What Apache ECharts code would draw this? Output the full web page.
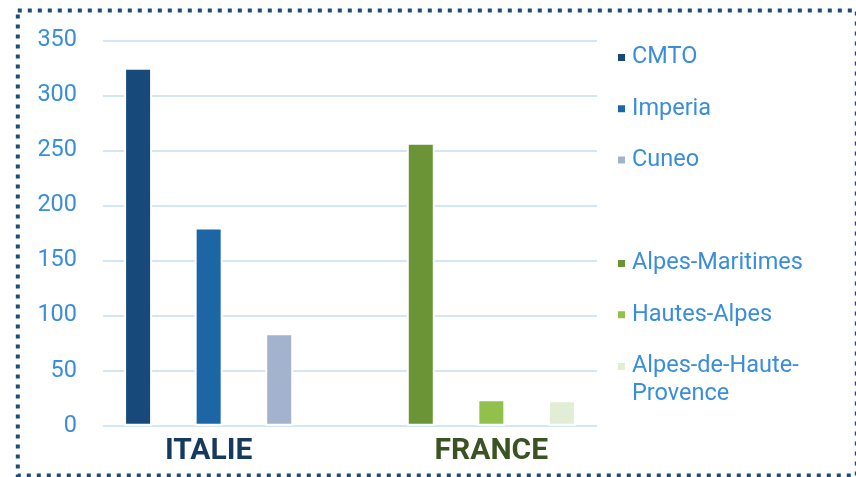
<!DOCTYPE html>
<html>
<head>
<meta charset="utf-8">
<script src="https://cdn.jsdelivr.net/npm/echarts@6/dist/echarts.min.js"></script>
<style>
    html, body { margin: 0; padding: 0; background: #fff; }
    #chart { width: 856px; height: 477px; }
</style>
</head>
<body>
<div id="chart"></div>
<script>
const categories = ['ITALIE', 'FRANCE'];
const italyNames = ['CMTO', 'Imperia', 'Cuneo'];
const italyValues = [325, 180, 84];
const franceNames = ['Alpes-Maritimes', 'Hautes-Alpes', 'Alpes-de-Haute-Provence'];
const franceValues = [257, 24, 23];
const yMin = 0;
const yMax = 350;
const yStep = 50;

const italyColors = ['#174a7b', '#1c66a6', '#a3b2cd'];
const franceColors = ['#6a9436', '#91c14b', '#e1eed5'];
const labelColors = { ITALIE: '#163a5f', FRANCE: '#3b5322' };
const textBlue = '#3a8ddc';
const font = 'Roboto';

let chart = echarts.init(document.getElementById('chart'), null, { renderer: 'canvas' });

// grid 0 : gridlines + y labels, grid 1 : bars + country labels
let grid = [
    { left: 103, right: 259, top: 40.3, bottom: 51.3 },
    { left: 67.3, right: 223.3, top: 40.3, bottom: 51.3 }
];

let xAxis = [
    { gridIndex: 0, type: 'category', data: categories, show: false },
    {
        gridIndex: 1,
        type: 'category',
        data: categories,
        axisLine: { show: false },
        axisTick: { show: false },
        axisLabel: {
            margin: 11,
            fontFamily: font,
            fontSize: 30,
            fontWeight: 'bold',
            color: (value) => labelColors[value]
        }
    }
];

let yAxis = [
    {
        gridIndex: 0,
        type: 'value',
        min: yMin,
        max: yMax,
        interval: yStep,
        axisLine: { show: false },
        axisTick: { show: false },
        axisLabel: { margin: 26, fontFamily: font, fontSize: 23.5, color: textBlue },
        splitLine: { lineStyle: { color: '#d3e6f8', width: 2 } }
    },
    { gridIndex: 1, type: 'value', min: yMin, max: yMax, show: false, splitLine: { show: false } }
];

// each italian series shares a slot (stack) with a french one, so bars stay grouped
let series = [];
italyNames.forEach((name, i) => {
    series.push({
        name,
        type: 'bar',
        xAxisIndex: 1,
        yAxisIndex: 1,
        stack: 's' + i,
        data: [italyValues[i], null],
        itemStyle: { color: italyColors[i] }
    });
});
franceNames.forEach((name, i) => {
    series.push({
        name,
        type: 'bar',
        xAxisIndex: 1,
        yAxisIndex: 1,
        stack: 's' + i,
        data: [null, franceValues[i]],
        itemStyle: { color: franceColors[i] }
    });
});
series.forEach(s => {
    s.barWidth = 28;
    s.barGap = '152%';
    s.itemStyle.borderColor = '#fff';
    s.itemStyle.borderWidth = 2;
});

const legendText = { fontFamily: font, fontSize: 23.5, lineHeight: 28, color: textBlue, padding: [0, 0, 0, 1] };
const legendBase = {
    orient: 'vertical',
    left: 616,
    padding: 0,
    icon: 'rect',
    itemWidth: 9,
    itemHeight: 9,
    itemGap: 23.3,
    selectedMode: false,
    textStyle: legendText
};
let legend = [
    Object.assign({}, legendBase, { top: 43.5, data: italyNames }),
    Object.assign({}, legendBase, { top: 249.5, data: franceNames.slice(0, 2) }),
    // empty first line keeps the icon level with "Alpes-de-Haute-"
    Object.assign({}, legendBase, {
        top: 324.5,
        data: franceNames.slice(2),
        formatter: () => '\nAlpes-de-Haute-\nProvence'
    })
];

// dotted frame around the whole chart
let graphic = [{
    type: 'rect',
    silent: true,
    shape: { x: 17.8, y: 10.5, width: 839, height: 465 },
    style: { fill: null, stroke: '#1b4c7c', lineWidth: 4, lineDash: [4, 6] }
}];

chart.setOption({
    animation: false,
    grid,
    xAxis,
    yAxis,
    series,
    legend,
    graphic
});
</script>
</body>
</html>
